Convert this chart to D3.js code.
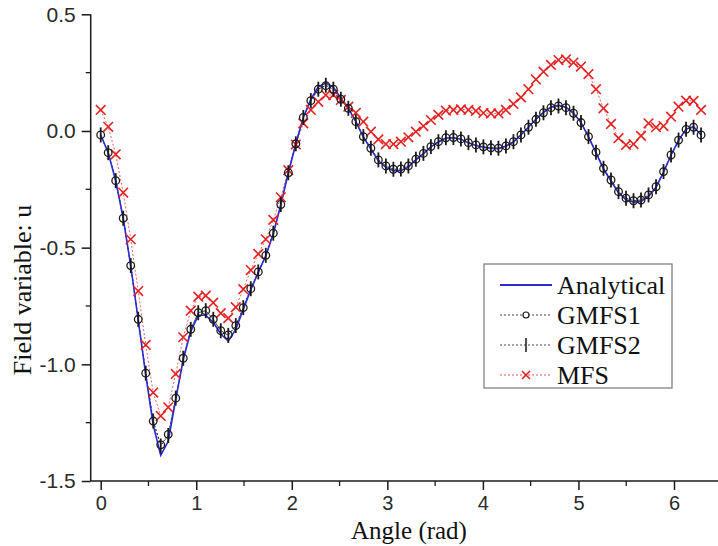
<!DOCTYPE html>
<html><head><meta charset="utf-8">
<script src="https://cdn.jsdelivr.net/npm/d3@7"></script>
<style>html,body{margin:0;padding:0;background:#fff;}svg{display:block;}</style>
</head><body>
<svg id="chart" width="718" height="546"></svg>
<script>
const nPts = 81;
const angleStep = 2 * Math.PI / 80;
const gmfs1 = [-0.017,-0.093,-0.213,-0.374,-0.577,-0.807,-1.038,-1.243,-1.345,-1.300,
 -1.145,-0.974,-0.850,-0.779,-0.770,-0.807,-0.856,-0.874,-0.834,-0.757,
 -0.676,-0.604,-0.533,-0.438,-0.315,-0.179,-0.055,0.058,0.130,0.179,
 0.194,0.179,0.136,0.097,0.040,-0.024,-0.074,-0.124,-0.150,-0.164,
 -0.163,-0.150,-0.121,-0.096,-0.067,-0.046,-0.029,-0.028,-0.034,-0.050,
 -0.060,-0.068,-0.072,-0.074,-0.064,-0.046,-0.017,0.016,0.050,0.078,
 0.100,0.107,0.100,0.076,0.036,-0.024,-0.091,-0.160,-0.210,-0.260,
 -0.288,-0.299,-0.296,-0.274,-0.239,-0.174,-0.103,-0.039,0.007,0.016,-0.017];
const gmfs2 = [-0.017,-0.093,-0.213,-0.374,-0.577,-0.807,-1.038,-1.243,-1.350,-1.305,
 -1.145,-0.974,-0.850,-0.779,-0.770,-0.807,-0.856,-0.876,-0.834,-0.757,
 -0.676,-0.604,-0.533,-0.438,-0.315,-0.179,-0.055,0.058,0.130,0.179,
 0.196,0.179,0.136,0.097,0.040,-0.024,-0.074,-0.124,-0.150,-0.164,
 -0.163,-0.150,-0.121,-0.096,-0.067,-0.046,-0.029,-0.028,-0.034,-0.050,
 -0.060,-0.068,-0.072,-0.074,-0.064,-0.046,-0.017,0.016,0.050,0.078,
 0.100,0.107,0.100,0.076,0.036,-0.024,-0.091,-0.160,-0.210,-0.260,
 -0.288,-0.299,-0.296,-0.274,-0.239,-0.174,-0.103,-0.039,0.007,0.016,-0.017];
const analytical = [-0.017,-0.093,-0.213,-0.374,-0.577,-0.810,-1.045,-1.260,-1.390,-1.330,
 -1.150,-0.980,-0.860,-0.790,-0.790,-0.820,-0.870,-0.900,-0.850,-0.765,
 -0.680,-0.606,-0.535,-0.440,-0.316,-0.180,-0.055,0.058,0.135,0.190,
 0.205,0.188,0.140,0.097,0.040,-0.026,-0.078,-0.128,-0.156,-0.170,
 -0.170,-0.155,-0.124,-0.097,-0.068,-0.047,-0.030,-0.029,-0.035,-0.051,
 -0.062,-0.070,-0.074,-0.076,-0.066,-0.047,-0.017,0.016,0.051,0.080,
 0.103,0.110,0.102,0.077,0.036,-0.025,-0.093,-0.163,-0.215,-0.265,
 -0.295,-0.305,-0.302,-0.280,-0.242,-0.176,-0.104,-0.040,0.008,0.018,-0.017];
const mfs = [0.090,0.018,-0.100,-0.264,-0.464,-0.686,-0.917,-1.121,-1.221,-1.184,
 -1.041,-0.884,-0.770,-0.710,-0.706,-0.736,-0.781,-0.802,-0.755,-0.678,
 -0.596,-0.527,-0.464,-0.381,-0.284,-0.168,-0.058,0.033,0.090,0.125,
 0.154,0.154,0.133,0.104,0.078,0.040,-0.003,-0.036,-0.056,-0.056,
 -0.046,-0.027,-0.003,0.021,0.047,0.069,0.087,0.090,0.093,0.090,
 0.086,0.077,0.075,0.075,0.090,0.116,0.144,0.179,0.221,0.254,
 0.283,0.304,0.307,0.293,0.276,0.244,0.179,0.097,0.030,-0.031,
 -0.060,-0.056,-0.021,0.033,0.016,0.021,0.061,0.104,0.130,0.129,0.090];
const xTickLabels = [0,1,2,3,4,5,6];
const yTickLabels = [-1.5,-1.0,-0.5,0.0,0.5];
const legendLabels = ["Analytical","GMFS1","GMFS2","MFS"];
const xTitle = "Angle (rad)";
const yTitle = "Field variable: u";

const angles = d3.range(nPts).map(i => i * angleStep);
const svg = d3.select("#chart");
const x = d3.scaleLinear().domain([0, 6]).range([100.7, 674]);
const y = d3.scaleLinear().domain([-1.5, 0.5]).range([481, 14.3]);
const xLeft = 90.7, xRight = 718;

const blue = "#2a2ad6", red = "#e52222", ink = "#1a1a1a";

// Axes
const gx = svg.append("g").attr("transform", `translate(0,${y(-1.5)})`);
gx.append("line").attr("x1", xLeft).attr("x2", xRight).attr("stroke", ink).attr("stroke-width", 1.5);
const xAxis = d3.axisBottom(x).tickValues(xTickLabels).tickSize(9).tickSizeOuter(0).tickFormat(d3.format("d"));
const gxa = gx.append("g").call(xAxis);
gxa.select(".domain").remove();
gxa.selectAll(".tick line").attr("stroke", ink).attr("stroke-width", 1.5);
gxa.selectAll("text").attr("font-family", "Liberation Sans, Arial, sans-serif").attr("font-size", 20).attr("fill", "#2a2a2a").attr("dy", "0.85em");
gx.selectAll(".minor").data(d3.range(0.5, 6.5, 1).filter(v => x(v) < xRight)).join("line")
  .attr("x1", d => x(d)).attr("x2", d => x(d)).attr("y1", 0).attr("y2", 5).attr("stroke", ink).attr("stroke-width", 1.3);

const gy = svg.append("g").attr("transform", `translate(${xLeft},0)`);
gy.append("line").attr("y1", y(0.5)).attr("y2", y(-1.5)).attr("stroke", ink).attr("stroke-width", 1.5);
const yAxis = d3.axisLeft(y).tickValues(yTickLabels).tickSize(9).tickSizeOuter(0).tickFormat(d3.format(".1f"));
const gya = gy.append("g").call(yAxis);
gya.select(".domain").remove();
gya.selectAll(".tick line").attr("stroke", ink).attr("stroke-width", 1.5);
gya.selectAll("text").attr("font-family", "Liberation Sans, Arial, sans-serif").attr("font-size", 21).attr("fill", "#2a2a2a").attr("x", -15).text(d => d3.format(".1f")(d).replace("−", "-"));
gy.selectAll(".minor").data([-1.25,-0.75,-0.25,0.25]).join("line")
  .attr("x1", 0).attr("x2", -5).attr("y1", d => y(d)).attr("y2", d => y(d)).attr("stroke", ink).attr("stroke-width", 1.3);

// Titles
svg.append("text").attr("x", 409).attr("y", 539).attr("text-anchor", "middle")
  .attr("font-family", "Liberation Serif, Times New Roman, serif").attr("font-size", 25).attr("fill", "#111").text(xTitle);
svg.append("text").attr("transform", "translate(31,290) rotate(-90)").attr("text-anchor", "middle")
  .attr("font-family", "Liberation Serif, Times New Roman, serif").attr("font-size", 26).attr("fill", "#111").text(yTitle);

const line = d3.line().x((d, i) => x(angles[i])).y(d => y(d));
const plot = svg.append("g");

// connecting dashed lines
plot.append("path").datum(mfs).attr("d", line).attr("fill", "none").attr("stroke", red).attr("stroke-width", 0.9).attr("stroke-dasharray", "2,2").attr("opacity", 0.8);
plot.append("path").datum(gmfs1).attr("d", line).attr("fill", "none").attr("stroke", ink).attr("stroke-width", 0.8).attr("stroke-dasharray", "2,2");
plot.append("path").datum(gmfs2).attr("d", line).attr("fill", "none").attr("stroke", ink).attr("stroke-width", 0.8).attr("stroke-dasharray", "2,2");
// analytical
plot.append("path").datum(analytical).attr("d", line).attr("fill", "none").attr("stroke", blue).attr("stroke-width", 1.6);

// MFS crosses
const cs = 4.8;
plot.selectAll(".mfs").data(mfs).join("path")
  .attr("d", (d, i) => { const cx = x(angles[i]), cy = y(d); return `M${cx-cs},${cy-cs}L${cx+cs},${cy+cs}M${cx-cs},${cy+cs}L${cx+cs},${cy-cs}`; })
  .attr("stroke", red).attr("stroke-width", 1.6).attr("fill", "none");
// GMFS2 bars
plot.selectAll(".g2").data(gmfs2).join("line")
  .attr("x1", (d, i) => x(angles[i])).attr("x2", (d, i) => x(angles[i]))
  .attr("y1", d => y(d) - 7.5).attr("y2", d => y(d) + 7.5)
  .attr("stroke", ink).attr("stroke-width", 1.8);
// GMFS1 circles
plot.selectAll(".g1").data(gmfs1).join("circle")
  .attr("cx", (d, i) => x(angles[i])).attr("cy", d => y(d)).attr("r", 3.8)
  .attr("fill", "none").attr("stroke", ink).attr("stroke-width", 1.3);

// Legend
const lg = svg.append("g");
lg.append("rect").attr("x", 484).attr("y", 264).attr("width", 188).attr("height", 124)
  .attr("fill", "#fff").attr("stroke", "#777").attr("stroke-width", 1.2);
const rowY = [285, 315, 345, 375];
const lx1 = 500, lx2 = 552, lxm = 526;
legendLabels.forEach((lab, k) => {
  const cy = rowY[k];
  const g = lg.append("g");
  if (k === 0) {
    g.append("line").attr("x1", lx1).attr("x2", lx2).attr("y1", cy).attr("y2", cy).attr("stroke", blue).attr("stroke-width", 1.8);
  } else {
    const col = k === 3 ? red : ink;
    g.append("line").attr("x1", lx1).attr("x2", lx2).attr("y1", cy).attr("y2", cy).attr("stroke", col).attr("stroke-width", 0.8).attr("stroke-dasharray", "2,2");
    if (k === 1) g.append("circle").attr("cx", lxm).attr("cy", cy).attr("r", 3).attr("fill", "#fff").attr("stroke", ink).attr("stroke-width", 1.2);
    if (k === 2) g.append("line").attr("x1", lxm).attr("x2", lxm).attr("y1", cy - 7).attr("y2", cy + 7).attr("stroke", ink).attr("stroke-width", 1.5);
    if (k === 3) g.append("path").attr("d", `M${lxm-4},${cy-4}L${lxm+4},${cy+4}M${lxm-4},${cy+4}L${lxm+4},${cy-4}`).attr("stroke", red).attr("stroke-width", 1.6);
  }
  g.append("text").attr("x", 557).attr("y", cy + 9).attr("font-family", "Liberation Serif, Times New Roman, serif")
    .attr("font-size", 26).attr("fill", "#111").text(lab);
});
</script>
</body></html>
